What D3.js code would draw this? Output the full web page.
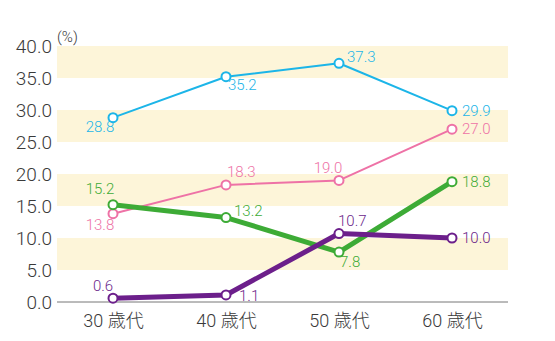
<!DOCTYPE html>
<html><head><meta charset="utf-8">
<script src="https://cdn.jsdelivr.net/npm/d3@7"></script>
<style>body{margin:0;background:#fff}svg{display:block;font-family:"Roboto","Noto Sans CJK JP",sans-serif;font-weight:300}</style>
</head><body>
<script>
const categories = ["30 歳代","40 歳代","50 歳代","60 歳代"];
const cyanValues = [28.8,35.2,37.3,29.9];
const pinkValues = [13.8,18.3,19.0,27.0];
const greenValues = [15.2,13.2,7.8,18.8];
const purpleValues = [0.6,1.1,10.7,10.0];
const yTicks = [0,5,10,15,20,25,30,35,40];
const bands = [[5,10],[15,20],[25,30],[35,40]];

const W=555,H=341;
const svg=d3.select("body").append("svg").attr("width",W).attr("height",H);
const x=d3.scalePoint().domain(categories).range([113,452]);
const y=d3.scaleLinear().domain([0,40]).range([302,46]);
const x0=57,x1=508;

svg.selectAll("rect.band").data(bands).join("rect").attr("class","band")
  .attr("x",x0).attr("width",x1-x0).attr("y",d=>y(d[1])).attr("height",d=>y(d[0])-y(d[1]))
  .attr("fill","#fdf5d9");

const ya=svg.append("g").attr("transform",`translate(${x0},0)`)
  .call(d3.axisLeft(y).tickValues(yTicks).tickFormat(d3.format(".1f")).tickSize(0).tickPadding(5));
ya.select(".domain").remove();
ya.selectAll("text").attr("font-size",19).attr("fill","#3a3a3a").attr("font-family","Roboto,sans-serif").attr("font-weight",300).attr("dy","0.36em");

svg.append("line").attr("x1",x0).attr("x2",x1).attr("y1",y(0)).attr("y2",y(0)).attr("stroke","#777").attr("stroke-width",1);

const xa=svg.append("g").attr("transform",`translate(0,${y(0)})`).call(d3.axisBottom(x).tickSize(0).tickPadding(12));
xa.select(".domain").remove();
xa.selectAll("text").attr("font-size",18).attr("fill","#3a3a3a").attr("font-weight",300).attr("font-family","Roboto,'Noto Sans CJK JP',sans-serif");

svg.append("text").attr("x",57).attr("y",42).attr("font-size",15).attr("fill","#3a3a3a").text("(%)");

const series=[
 {vals:pinkValues,color:"#ee72a6",w:2,labels:[[-13,16,"middle"],[1,-8,"start"],[-11,-7,"middle"],[10,5,"start"]]},
 {vals:cyanValues,color:"#1cb5e8",w:2,labels:[[-13,14,"middle"],[2,13,"start"],[8,-1,"start"],[10,5,"start"]]},
 {vals:greenValues,color:"#3dab36",w:5,labels:[[-13,-11,"middle"],[8,-2,"start"],[1,15,"start"],[10,5,"start"]]},
 {vals:purpleValues,color:"#6c1f8b",w:5,labels:[[-10,-7,"middle"],[13,6,"start"],[-1,-8,"start"],[10,5,"start"]]}
];
const line=d3.line().x((d,i)=>x(categories[i])).y(d=>y(d));
series.forEach(s=>{
  svg.append("path").datum(s.vals).attr("d",line).attr("fill","none").attr("stroke",s.color).attr("stroke-width",s.w).attr("stroke-linejoin","round");
});
series.forEach(s=>{
  svg.selectAll(null).data(s.vals).join("circle").attr("cx",(d,i)=>x(categories[i])).attr("cy",d=>y(d)).attr("r",4.5)
    .attr("fill","#fff").attr("stroke",s.color).attr("stroke-width",2);
  svg.selectAll(null).data(s.vals).join("text")
    .attr("x",(d,i)=>x(categories[i])+s.labels[i][0]).attr("y",(d,i)=>y(d)+s.labels[i][1])
    .attr("text-anchor",(d,i)=>s.labels[i][2]).attr("font-size",15).attr("font-weight",300).attr("fill",s.color)
    .text(d=>d.toFixed(1));
});
</script>
</body></html>
